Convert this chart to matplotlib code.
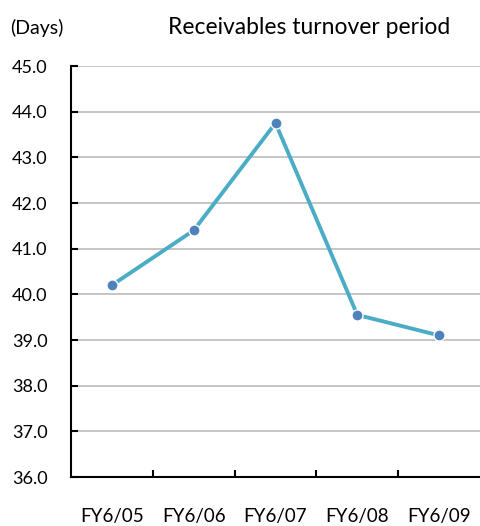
import matplotlib
matplotlib.use("Agg")
import matplotlib.pyplot as plt
from matplotlib.ticker import FixedLocator

categories = ["FY6/05", "FY6/06", "FY6/07", "FY6/08", "FY6/09"]
values = [40.2, 41.4, 43.75, 39.55, 39.1]
yticks = [36.0, 37.0, 38.0, 39.0, 40.0, 41.0, 42.0, 43.0, 44.0, 45.0]

plt.rcParams['font.family'] = ['Lato', 'DejaVu Sans']

fig = plt.figure(figsize=(4.8, 5.26), dpi=100)
ax = fig.add_axes([71/480, 49/526, 409/480, 411/526])

x = list(range(len(categories)))
ax.plot(x, values, color='#4bacc6', lw=2.8, zorder=3,
        marker='o', markersize=8, markerfacecolor='#4f81bd',
        markeredgecolor='white', markeredgewidth=1.0)

ax.set_xlim(-0.5, len(categories) - 0.5)
ax.set_ylim(36, 45)
ax.set_yticks(yticks)
ax.set_yticklabels([f"{v:.1f}" for v in yticks], fontsize=13)
ax.yaxis.grid(True, color='#c0c0c0', lw=1.3)
ax.set_axisbelow(True)
ax.tick_params(axis='y', direction='in', length=5, width=1.5, pad=17)

ax.set_xticks(x)
ax.set_xticklabels(categories, fontsize=13.5)
ax.tick_params(axis='x', which='major', length=0, pad=22)
ax.xaxis.set_minor_locator(FixedLocator([i + 0.5 for i in range(len(categories) - 1)]))
ax.tick_params(axis='x', which='minor', direction='in', length=5, width=1.5)

for s in ['top', 'right']:
    ax.spines[s].set_visible(False)
for s in ['left', 'bottom']:
    ax.spines[s].set_linewidth(1.5)

fig.text(10/480, 1 - 28/526, "(Days)", fontsize=14, va='center', ha='left')
fig.text(309/480, 1 - 28/526, "Receivables turnover period", fontsize=16.5, va='center', ha='center')

fig.savefig("out.png", dpi=100)
